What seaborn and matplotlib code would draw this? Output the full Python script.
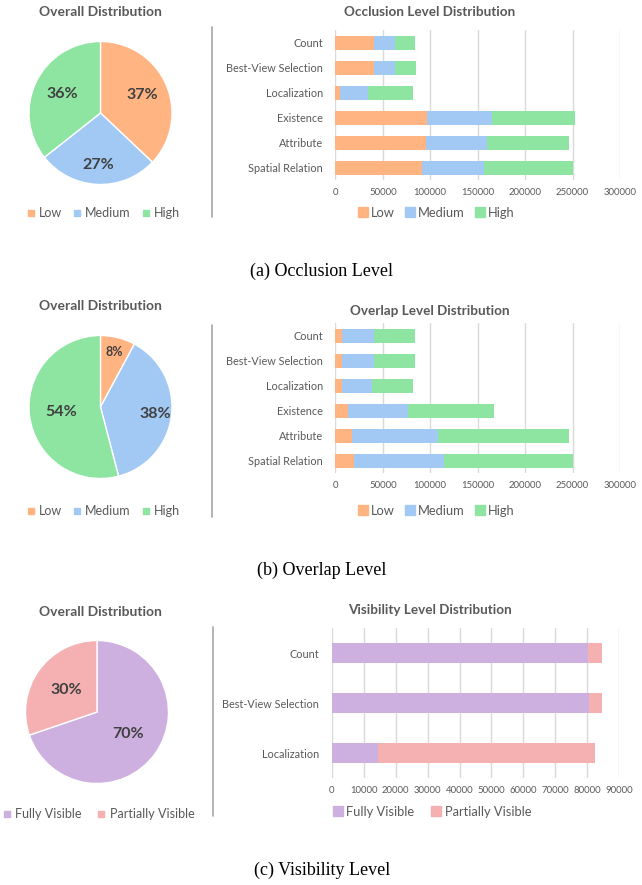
import numpy as np
import pandas as pd
import matplotlib
matplotlib.use("Agg")
import matplotlib.pyplot as plt
import seaborn as sns
from matplotlib.lines import Line2D

# ---------------- data ----------------
tasks6 = ["Count", "Best-View Selection", "Localization", "Existence", "Attribute", "Spatial Relation"]
levels = ["Low", "Medium", "High"]

occl_low = [41100, 41100, 4900, 96950, 95200, 91300]
occl_med = [22100, 22100, 29900, 67800, 65000, 65700]
occl_high = [21100, 21450, 47400, 87450, 85700, 93100]

ovl_low = [7000, 7000, 7000, 13350, 17600, 20000]
ovl_med = [34100, 34100, 31300, 63550, 90900, 94200]
ovl_high = [43200, 43200, 43900, 90700, 137400, 135900]

tasks3 = ["Count", "Best-View Selection", "Localization"]
vis_levels = ["Fully Visible", "Partially Visible"]
vis_full = [80200, 80600, 14600]
vis_partial = [4270, 3980, 67790]

occl_ticks = [0, 50000, 100000, 150000, 200000, 250000, 300000]
vis_ticks = [0, 10000, 20000, 30000, 40000, 50000, 60000, 70000, 80000, 90000]

# ---------------- style ----------------
sns.set_theme(style="white")
plt.rcParams["font.family"] = ["Lato", "DejaVu Sans"]

C_LOW, C_MED, C_HIGH = "#FFB482", "#A1C9F4", "#8DE5A1"
C_FULL, C_PART = "#CDB0DF", "#F5B0B2"
GRAY = "#595959"
DARK = "#404040"

W, H = 642, 885
fig = plt.figure(figsize=(W / 100, H / 100), dpi=100)


def px_axes(x0, y0, x1, y1):
    return fig.add_axes([x0 / W, 1 - y1 / H, (x1 - x0) / W, (y1 - y0) / H])


def ftext(x, y, s, **kw):
    fig.text(x / W, 1 - y / H, s, **kw)


def pie(ax, values, colors, dists, sizes):
    wedges, texts, autotexts = ax.pie(
        values, colors=colors, startangle=90, counterclock=False,
        autopct="%.0f%%", wedgeprops=dict(edgecolor="white", linewidth=1.0),
        textprops=dict(color=DARK, fontweight="bold"))
    for w, t, d, s in zip(wedges, autotexts, dists, sizes):
        th = np.deg2rad((w.theta1 + w.theta2) / 2)
        t.set_position((d * np.cos(th), d * np.sin(th)))
        t.set_fontsize(s)
    ax.set_xlim(-1.0, 1.0)
    ax.set_ylim(-1.0, 1.0)
    ax.set_aspect("equal")


def stacked(ax, cats, series, colors, width, ticks):
    df = pd.DataFrame({"task": cats})
    cum = np.cumsum(np.array(series), axis=0)
    for i in range(len(series) - 1, -1, -1):
        df["v"] = cum[i]
        sns.barplot(data=df, x="v", y="task", orient="h", color=colors[i],
                    saturation=1, width=width, ax=ax, edgecolor="none")
    ax.set_xlim(ticks[0], ticks[-1])
    ax.set_xticks(ticks)
    ax.set_xticklabels([str(t) for t in ticks])
    ax.set_xlabel("")
    ax.set_ylabel("")
    ax.grid(axis="x", color="#D9D9D9", linewidth=1.0)
    ax.set_axisbelow(True)
    for sp in ax.spines.values():
        sp.set_visible(False)
    ax.tick_params(axis="y", length=0, pad=9, labelsize=7.8, labelcolor=GRAY)
    ax.tick_params(axis="x", length=0, pad=6, labelsize=6.9, labelcolor=GRAY)


def legend(x, y, labels, colors, fs, ms, spacing, tpad=0.25):
    handles = [Line2D([], [], marker="s", linestyle="none", markersize=ms,
                      markerfacecolor=c, markeredgecolor=c) for c in colors]
    fig.legend(handles, labels, loc="center", bbox_to_anchor=(x / W, 1 - y / H),
               ncol=len(labels), frameon=False, fontsize=fs, labelcolor=GRAY,
               handletextpad=tpad, columnspacing=spacing, handlelength=0.8,
               borderpad=0, borderaxespad=0)


def sep(x, y0, y1):
    fig.add_artist(Line2D([x / W, x / W], [1 - y0 / H, 1 - y1 / H],
                          color="#A6A6A6", linewidth=1.2))


rows = [
    dict(top=0, low=occl_low, med=occl_med, high=occl_high,
         title="Occlusion Level Distribution", cap="(a) Occlusion Level",
         dists=[0.64, 0.73, 0.6], sizes=[11.5, 11.5, 11.5]),
    dict(top=294, low=ovl_low, med=ovl_med, high=ovl_high,
         title="Overlap Level Distribution", cap="(b) Overlap Level",
         dists=[0.8, 0.77, 0.55], sizes=[9, 11.5, 11.5]),
]

for r in rows:
    t = r["top"]
    ftext(100, 12 + t, "Overall Distribution", ha="center", va="center",
          fontsize=10, fontweight="bold", color=GRAY)
    ax = px_axes(29, 41.5 + t, 172, 184.5 + t)
    vals = [sum(r["low"]), sum(r["med"]), sum(r["high"])]
    pie(ax, vals, [C_LOW, C_MED, C_HIGH], r["dists"], r["sizes"])
    legend(103, 213 + t + (4 if t else 0), levels, [C_LOW, C_MED, C_HIGH], 9, 4.6, 0.8)

    ftext(430, 12 + t + (0 if t == 0 else 5), r["title"], ha="center", va="center",
          fontsize=9.7, fontweight="bold", color=GRAY)
    bx = px_axes(335.3, 30 + t + (0 if t == 0 else -1), 620, 180 + t + (0 if t == 0 else -1))
    stacked(bx, tasks6, [r["low"], r["med"], r["high"]], [C_LOW, C_MED, C_HIGH],
            0.56, occl_ticks)
    legend(436, 213 + t + (4 if t else 0), levels, [C_LOW, C_MED, C_HIGH], 9.3, 6.5, 0.75)
    sep(212, 27 + t + (0 if t == 0 else 4), 217 + t + (0 if t == 0 else 6))
    ftext(322, 271 + t + (5 if t else 0), r["cap"], ha="center", va="center",
          fontsize=13, family=["Liberation Serif"], color="black")

# ---------------- row c ----------------
ftext(100, 612, "Overall Distribution", ha="center", va="center",
      fontsize=10, fontweight="bold", color=GRAY)
ax = px_axes(25.5, 640.5, 168.5, 783.5)
pie(ax, [sum(vis_full), sum(vis_partial)], [C_FULL, C_PART], [0.53, 0.53], [11.5, 11.5])
legend(98, 814, vis_levels, [C_FULL, C_PART], 9, 4.6, 1.2)

ftext(430, 610, "Visibility Level Distribution", ha="center", va="center",
      fontsize=9.7, fontweight="bold", color=GRAY)
bx = px_axes(331.7, 628, 619.3, 778)
stacked(bx, tasks3, [vis_full, vis_partial], [C_FULL, C_PART], 0.4, vis_ticks)
legend(432, 812, vis_levels, [C_FULL, C_PART], 9.3, 6.5, 1.3)
sep(212.5, 627, 816)
ftext(322, 870, "(c) Visibility Level", ha="center", va="center",
      fontsize=13, family=["Liberation Serif"], color="black")

fig.savefig("out.png", dpi=100, facecolor="white")
